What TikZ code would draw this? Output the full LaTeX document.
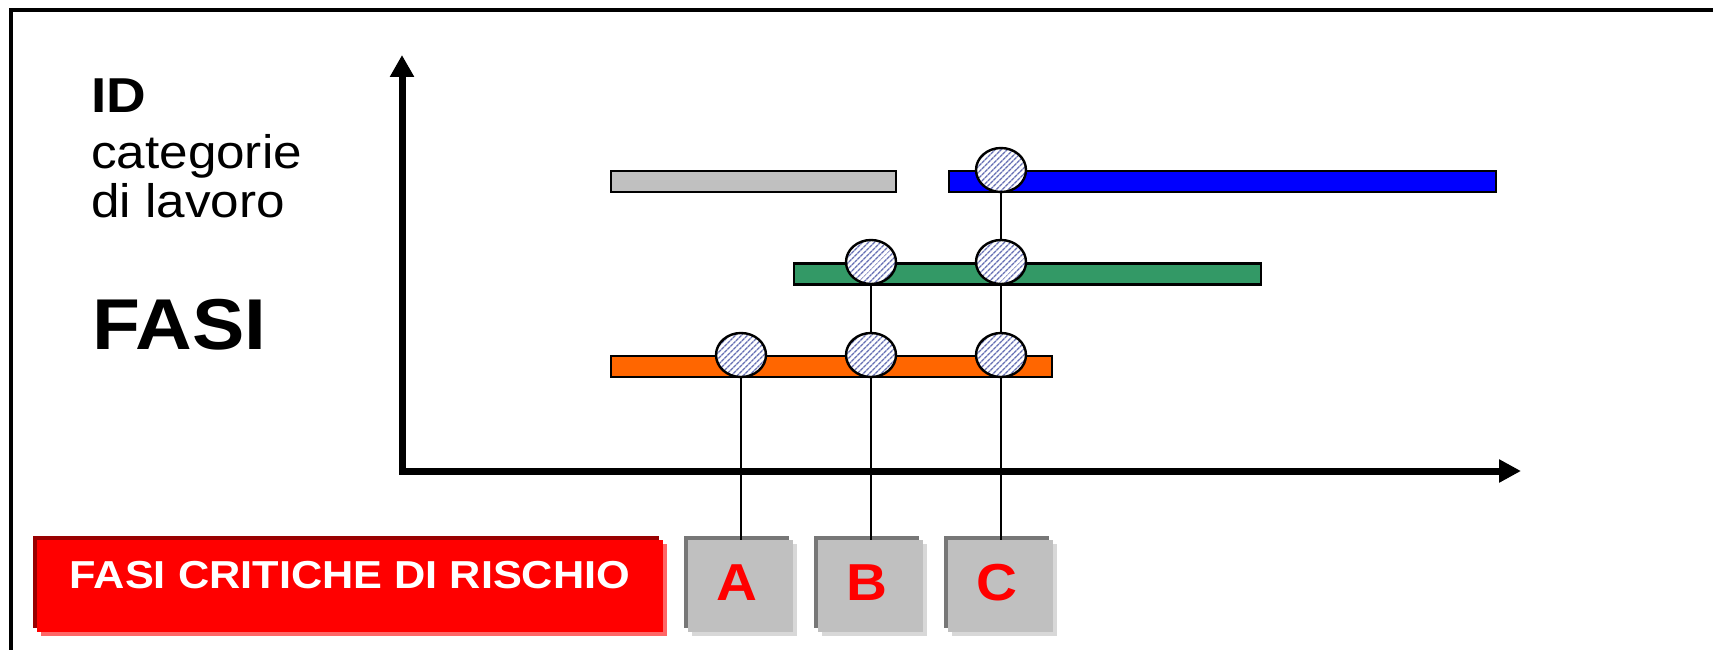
\documentclass[tikz,border=0pt]{standalone}
\usepackage{fontspec}
\setmainfont{Liberation Sans}
\usetikzlibrary{arrows.meta,shapes.geometric,patterns.meta,shadows}
\definecolor{barGray}{HTML}{C0C0C0}
\definecolor{barBlue}{HTML}{0000FF}
\definecolor{barGreen}{HTML}{339966}
\definecolor{barOrange}{HTML}{FF6600}
\definecolor{hatchCol}{HTML}{6670B4}
\definecolor{boxGray}{HTML}{C0C0C0}
\definecolor{boxDark}{HTML}{777777}
\definecolor{boxLight}{HTML}{D8D8D8}
\definecolor{redMain}{HTML}{FF0000}
\definecolor{redDark}{HTML}{990000}
\definecolor{redLight}{HTML}{FF6666}
\newcommand{\wide}[1]{\scalebox{1.09}[1]{#1}}
\begin{document}
\begin{tikzpicture}[x=1pt,y=-1pt,
  bar/.style={draw=black, line width=2.4pt, rectangle, inner sep=0pt, minimum height=21pt},
  circ/.style={ellipse, draw=black, line width=2.4pt, inner sep=0pt,
    minimum width=50pt, minimum height=44pt, preaction={fill=white},
    pattern={Lines[angle=45,distance=4pt,line width=1.4pt]}, pattern color=hatchCol},
  link/.style={draw=black, line width=2.2pt},
  letterbox/.style={rectangle, inner sep=0pt, minimum width=105pt, minimum height=92pt,
    fill=boxGray, text=redMain, font=\bfseries\fontsize{52}{52}\selectfont,
    text height=40pt, text depth=12pt,
    general shadow={fill=boxLight, shadow xshift=4pt, shadow yshift=-4pt},
    general shadow={fill=boxDark, shadow xshift=-4pt, shadow yshift=4pt}},
  redbox/.style={rectangle, inner sep=0pt, minimum width=626pt, minimum height=92pt,
    fill=redMain, text=white, font=\bfseries\fontsize{39}{39}\selectfont,
    text height=30pt, text depth=26pt,
    general shadow={fill=redLight, shadow xshift=4pt, shadow yshift=-4pt},
    general shadow={fill=redDark, shadow xshift=-4pt, shadow yshift=4pt}},
  axis/.style={line width=7pt, line join=miter,
    {Triangle[length=22pt,width=23pt]}-{Triangle[length=22pt,width=22pt]}},
  label/.style={anchor=base west, inner sep=0pt}
]
\useasboundingbox (0,0) rectangle (1713,650);
\clip (0,0) rectangle (1713,650);
% frame (cut at right and bottom)
\draw[line width=3.5pt] (11,700) -- (11,10) -- (1760,10);

% labels
\node[label, font=\bfseries\fontsize{49}{49}\selectfont] (id) at (91,113) {\scalebox{1.12}[1]{ID}};
\node[label, font=\fontsize{47}{47}\selectfont] (cat) at (91,168) {\wide{categorie}};
\node[label, font=\fontsize{47}{47}\selectfont] (lav) at (91,217) {\wide{di lavoro}};
\node[label, font=\bfseries\fontsize{72}{72}\selectfont] (fasi) at (92,349) {\wide{FASI}};

% axes
\coordinate (ytip) at (402,55);
\coordinate (orig) at (402,471);
\coordinate (xtip) at (1521,471);
\draw[axis] (ytip) -- (orig) -- (xtip);

% bars
\node[bar, fill=barGray, minimum width=285pt] (gray) at (753.5,181.5) {};
\node[bar, fill=barBlue, minimum width=547pt] (blue) at (1222.5,181.5) {};
\node[bar, fill=barGreen, minimum width=467pt] (green) at (1027.5,274) {};
\node[bar, fill=barOrange, minimum width=441pt] (orange) at (831.5,366.5) {};

% circles
\node[circ] (c13) at (1001,170) {};
\node[circ] (c22) at (871,262) {};
\node[circ] (c23) at (1001,262) {};
\node[circ] (c31) at (741,355) {};
\node[circ] (c32) at (871,355) {};
\node[circ] (c33) at (1001,355) {};

% bottom boxes
\node[redbox] (crit) at (350,586) {\scalebox{1.11}[1]{FASI CRITICHE DI RISCHIO}};
\node[letterbox] (A) at (740.5,586) {\wide{A}\kern8pt};
\node[letterbox] (B) at (870.5,586) {\wide{B}\kern8pt};
\node[letterbox] (C) at (1000.5,586) {\wide{C}\kern8pt};

% links
\draw[link] (c13) -- (c23);
\draw[link] (c23) -- (c33);
\draw[link] (c33) -- (c33 |- C.north);
\draw[link] (c22) -- (c32);
\draw[link] (c32) -- (c32 |- B.north);
\draw[link] (c31) -- (c31 |- A.north);
\end{tikzpicture}
\end{document}
